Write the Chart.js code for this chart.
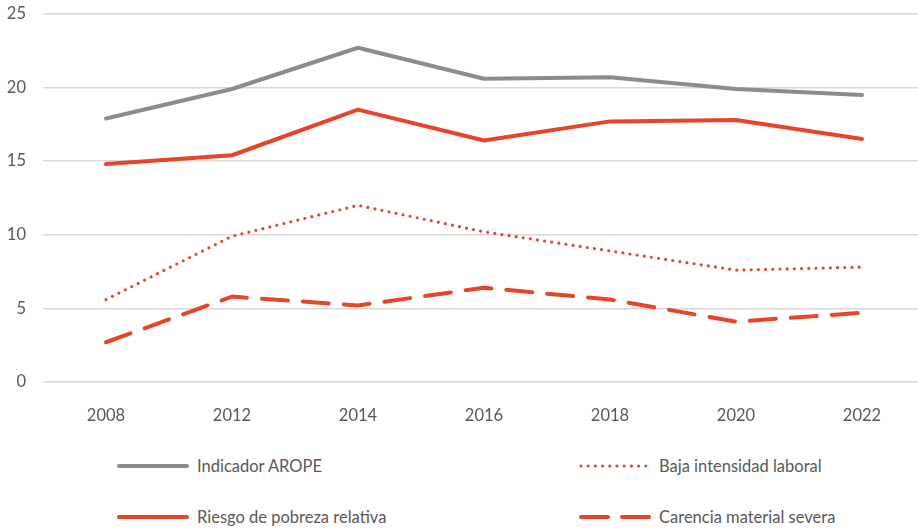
<!DOCTYPE html>
<html>
<head>
<meta charset="utf-8">
<script src="https://cdn.jsdelivr.net/npm/chart.js@4"></script>
<style>
  html, body { margin: 0; padding: 0; background: #fff; overflow: hidden; }
  #wrap { position: relative; width: 918px; height: 531px; overflow: hidden; }
  #chartBox { position: absolute; left: 0; top: -13px; width: 925px; height: 443px; }
  .leg { position: absolute; font-family: Lato, "Open Sans", sans-serif; font-size: 16.5px; color: #595959; display: flex; align-items: center; }
  .leg canvas { margin-right: 7px; }
</style>
</head>
<body>
<div id="wrap">
  <div id="chartBox"><canvas id="grafico"></canvas></div>
  <div class="leg" style="left:116px; top:456px;"><canvas id="l0" width="74" height="10"></canvas><span>Indicador AROPE</span></div>
  <div class="leg" style="left:578px; top:456px;"><canvas id="l2" width="74" height="10"></canvas><span>Baja intensidad laboral</span></div>
  <div class="leg" style="left:116px; top:507px;"><canvas id="l1" width="74" height="10"></canvas><span>Riesgo de pobreza relativa</span></div>
  <div class="leg" style="left:578px; top:507px;"><canvas id="l3" width="74" height="10"></canvas><span>Carencia material severa</span></div>
</div>
<script>
const anos = ['2008', '2012', '2014', '2016', '2018', '2020', '2022'];
const arope = [17.9, 19.9, 22.7, 20.6, 20.7, 19.9, 19.5];
const riesgo = [14.8, 15.4, 18.5, 16.4, 17.7, 17.8, 16.5];
const baja = [5.6, 9.9, 12.0, 10.2, 8.9, 7.6, 7.8];
const carencia = [2.7, 5.8, 5.2, 6.4, 5.6, 4.1, 4.7];

const gris = '#8c8c8c';
const rojo = '#e8442a';

const estilos = [
    { label: 'Indicador AROPE', data: arope, color: gris, width: 4, dash: [] },
    { label: 'Riesgo de pobreza relativa', data: riesgo, color: rojo, width: 4, dash: [] },
    { label: 'Baja intensidad laboral', data: baja, color: rojo, width: 3.2, dash: [0, 7.2] },
    { label: 'Carencia material severa', data: carencia, color: rojo, width: 4, dash: [26, 15] }
];

const ctx = document.getElementById('grafico');
new Chart(ctx, {
    type: 'line',
    data: {
        labels: anos,
        datasets: estilos.map(s => ({
            label: s.label,
            data: s.data,
            borderColor: s.color,
            backgroundColor: s.color,
            borderWidth: s.width,
            borderDash: s.dash,
            borderCapStyle: 'round',
            borderJoinStyle: 'round',
            pointRadius: 0,
            tension: 0
        }))
    },
    options: {
        responsive: true,
        maintainAspectRatio: false,
        animation: false,
        layout: { padding: { top: 1, right: 0, left: 0, bottom: 0 } },
        plugins: {
            legend: { display: false },
            tooltip: { enabled: false }
        },
        scales: {
            x: {
                offset: true,
                grid: { display: false },
                border: { display: false },
                ticks: { color: '#595959', font: { family: 'Lato', size: 16.5 }, padding: 16 },
                afterFit: function(scale) { scale.height = 48; }
            },
            y: {
                min: 0,
                max: 25,
                ticks: { stepSize: 5, color: '#595959', font: { family: 'Lato', size: 16.5 }, padding: 17 },
                grid: { color: '#d9d9d9', lineWidth: 1.5, drawTicks: false },
                border: { display: false },
                afterFit: function(scale) { scale.width = 43; }
            }
        }
    }
});

// muestras de la leyenda
estilos.forEach(function(s, i) {
    const c = document.getElementById('l' + i).getContext('2d');
    c.strokeStyle = s.color;
    c.lineWidth = s.width;
    c.lineCap = 'round';
    c.setLineDash(i == 3 ? [27, 14] : s.dash);
    c.beginPath();
    c.moveTo(3, 5);
    c.lineTo(71, 5);
    c.stroke();
});
</script>
</body>
</html>
